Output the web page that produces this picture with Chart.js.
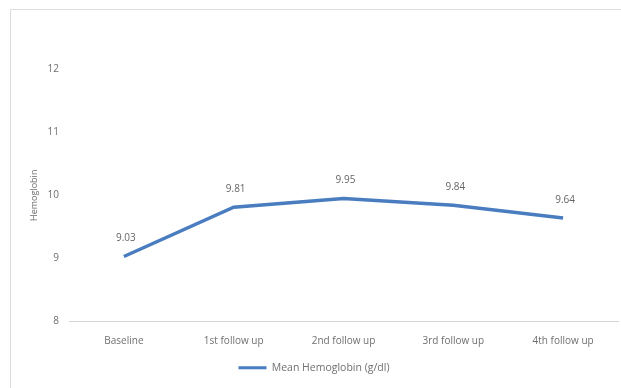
<!DOCTYPE html>
<html>
<head>
<meta charset="utf-8">
<script src="https://cdn.jsdelivr.net/npm/chart.js@4"></script>
<style>
  html, body { margin: 0; padding: 0; background: #fff; }
  canvas { display: block; }
</style>
</head>
<body>
<canvas id="myChart" width="621" height="388"></canvas>
<script>
const categories = ['Baseline', '1st follow up', '2nd follow up', '3rd follow up', '4th follow up'];
const meanHb = [9.03, 9.81, 9.95, 9.84, 9.64];
const seriesName = 'Mean Hemoglobin (g/dl)';
const yMin = 8;
const yMax = 12;

const textColor = '#6f6f6f';
const lineColor = '#4a7cc0';
const fontFamily = "'Open Sans', 'Noto Sans', sans-serif";

// frame lines of the chart box + value labels above the points
const framePlugin = {
  id: 'frame',
  beforeDraw(chart) {
    const c = chart.ctx;
    c.save();
    c.strokeStyle = '#dcdcdc';
    c.lineWidth = 1;
    c.beginPath();
    c.moveTo(10.5, 388);
    c.lineTo(10.5, 9.5);
    c.lineTo(621, 9.5);
    c.stroke();
    c.restore();
  },
  afterDatasetsDraw(chart) {
    const c = chart.ctx;
    const meta = chart.getDatasetMeta(0);
    c.save();
    c.fillStyle = '#666';
    c.font = '10px ' + fontFamily;
    c.textAlign = 'center';
    c.textBaseline = 'middle';
    meta.data.forEach((pt, i) => {
      c.fillText(meanHb[i].toFixed(2), pt.x + 2, pt.y - 18);
    });
    c.restore();
  }
};

var ctx = document.getElementById('myChart').getContext('2d');
var myChart = new Chart(ctx, {
  type: 'line',
  data: {
    labels: categories,
    datasets: [{
      label: seriesName,
      data: meanHb,
      borderColor: lineColor,
      backgroundColor: lineColor,
      borderWidth: 3.5,
      pointRadius: 0,
      tension: 0
    }]
  },
  options: {
    responsive: false,
    animation: false,
    layout: {
      padding: { left: 10, top: 69, right: 3, bottom: 5 }
    },
    plugins: {
      legend: {
        position: 'bottom',
        labels: {
          boxWidth: 28,
          boxHeight: 3,
          padding: 10,
          color: textColor,
          font: { family: fontFamily, size: 10.5 },
          generateLabels(chart) {
            return Chart.defaults.plugins.legend.labels.generateLabels(chart).map(item => {
              item.lineWidth = 0;
              return item;
            });
          }
        }
      },
      tooltip: { enabled: false }
    },
    scales: {
      x: {
        offset: true,
        grid: { display: true, drawOnChartArea: false, drawTicks: false },
        border: { color: '#d4d4d4', width: 1 },
        ticks: {
          color: textColor,
          padding: 14,
          maxRotation: 0,
          font: { family: fontFamily, size: 10 }
        },
        afterFit(scale) { scale.height = 31; }
      },
      y: {
        min: yMin,
        max: yMax,
        grid: { display: false, drawTicks: false },
        border: { display: false },
        ticks: {
          stepSize: 1,
          color: textColor,
          padding: 10,
          font: { family: fontFamily, size: 10 }
        },
        title: {
          display: true,
          text: 'Hemoglobin',
          color: textColor,
          padding: { top: 19, bottom: 0 },
          font: { family: fontFamily, size: 9 }
        },
        afterFit(scale) { scale.width = 59; }
      }
    }
  },
  plugins: [framePlugin]
});
</script>
</body>
</html>
